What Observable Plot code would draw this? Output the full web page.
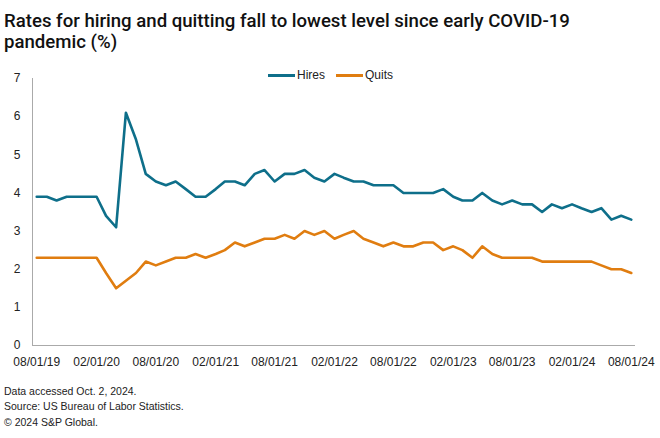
<!DOCTYPE html>
<html><head><meta charset="utf-8">
<script src="https://cdn.jsdelivr.net/npm/d3@7"></script>
<script src="https://cdn.jsdelivr.net/npm/@observablehq/plot@0.6"></script>
<style>
body{margin:0;background:#fff;width:660px;height:438px;overflow:hidden;font-family:"Liberation Sans",Arial,sans-serif;}
#title{margin:11px 0 0 4px;font-family:Roboto,sans-serif;font-weight:500;font-size:18.6px;line-height:20.5px;color:#111;height:41px;white-space:nowrap;}
#wrap{position:relative;height:325px;}
#legend{position:absolute;left:268px;top:16px;display:flex;align-items:center;font-size:12px;line-height:14px;color:#222;}
.sw{display:inline-block;width:27px;height:3px;margin-right:2px;}
.it{display:flex;align-items:center;margin-right:11px;}
#notes{margin:7px 0 0 4px;font-size:10.5px;line-height:15.3px;color:#222;}
</style></head><body>
<div id="title"><div>Rates for hiring and quitting fall to lowest level since early COVID-19</div><div>pandemic (%)</div></div>
<div id="wrap"><div id="legend"></div></div>
<div id="notes">Data accessed Oct. 2, 2024.<br>Source: US Bureau of Labor Statistics.<br>© 2024 S&amp;P Global.</div>
<script>
const seriesNames = ["Hires", "Quits"];
const seriesColors = ["#0e6f8a", "#e07d10"];
const months = d3.utcMonth.range(new Date(Date.UTC(2019, 7, 1)), new Date(Date.UTC(2024, 8, 1)));
const hires = [3.9,3.9,3.8,3.9,3.9,3.9,3.9,3.4,3.1,6.1,
               5.4,4.5,4.3,4.2,4.3,4.1,3.9,3.9,4.1,4.3,
               4.3,4.2,4.5,4.6,4.3,4.5,4.5,4.6,4.4,4.3,
               4.5,4.4,4.3,4.3,4.2,4.2,4.2,4.0,4.0,4.0,
               4.0,4.1,3.9,3.8,3.8,4.0,3.8,3.7,3.8,3.7,
               3.7,3.5,3.7,3.6,3.7,3.6,3.5,3.6,3.3,3.4,3.3];
const quits = [2.3,2.3,2.3,2.3,2.3,2.3,2.3,1.9,1.5,1.7,
               1.9,2.2,2.1,2.2,2.3,2.3,2.4,2.3,2.4,2.5,
               2.7,2.6,2.7,2.8,2.8,2.9,2.8,3.0,2.9,3.0,
               2.8,2.9,3.0,2.8,2.7,2.6,2.7,2.6,2.6,2.7,
               2.7,2.5,2.6,2.5,2.3,2.6,2.4,2.3,2.3,2.3,
               2.3,2.2,2.2,2.2,2.2,2.2,2.2,2.1,2.0,2.0,1.9];
const tickLabels = ["08/01/19","02/01/20","08/01/20","02/01/21","08/01/21","02/01/22","08/01/22","02/01/23","08/01/23","02/01/24","08/01/24"];
const yTicks = [0,1,2,3,4,5,6,7];

const parse = d3.utcParse("%m/%d/%y");
const fmt = d3.utcFormat("%m/%d/%y");
const tickDates = tickLabels.map(parse);
const xDomain = [new Date(Date.UTC(2019, 6, 19)), new Date(Date.UTC(2024, 7, 14))];

const data = [];
months.forEach((d, i) => {
  data.push({date: d, value: hires[i], series: "Hires"});
  data.push({date: d, value: quits[i], series: "Quits"});
});

const chart = Plot.plot({
  width: 660, height: 325,
  marginLeft: 32, marginRight: 25, marginTop: 26, marginBottom: 32,
  style: {fontFamily: "'Liberation Sans', Arial, sans-serif", fontSize: "12px", color: "#222", background: "#fff"},
  x: {type: "utc", domain: xDomain},
  y: {domain: [0, 7]},
  color: {domain: seriesNames, range: seriesColors},
  marks: [
    Plot.axisY({ticks: yTicks, tickFormat: d3.format("d"), tickSize: 0, tickPadding: 12, label: null}),
    Plot.axisX({ticks: tickDates, tickFormat: fmt, tickSize: 0, tickPadding: 12, label: null}),
    Plot.ruleY([0], {stroke: "#aaa", strokeWidth: 1}),
    Plot.ruleX([xDomain[0]], {y1: 0, y2: 7, stroke: "#aaa", strokeWidth: 1}),
    Plot.line(data, {x: "date", y: "value", z: "series", stroke: "series", strokeWidth: 2.6, strokeLinejoin: "round"})
  ]
});
document.getElementById("wrap").appendChild(chart);

const legend = document.getElementById("legend");
seriesNames.forEach((n, i) => {
  const it = document.createElement("span");
  it.className = "it";
  it.innerHTML = `<span class="sw" style="background:${seriesColors[i]}"></span>${n}`;
  legend.appendChild(it);
});
</script>
</body></html>
